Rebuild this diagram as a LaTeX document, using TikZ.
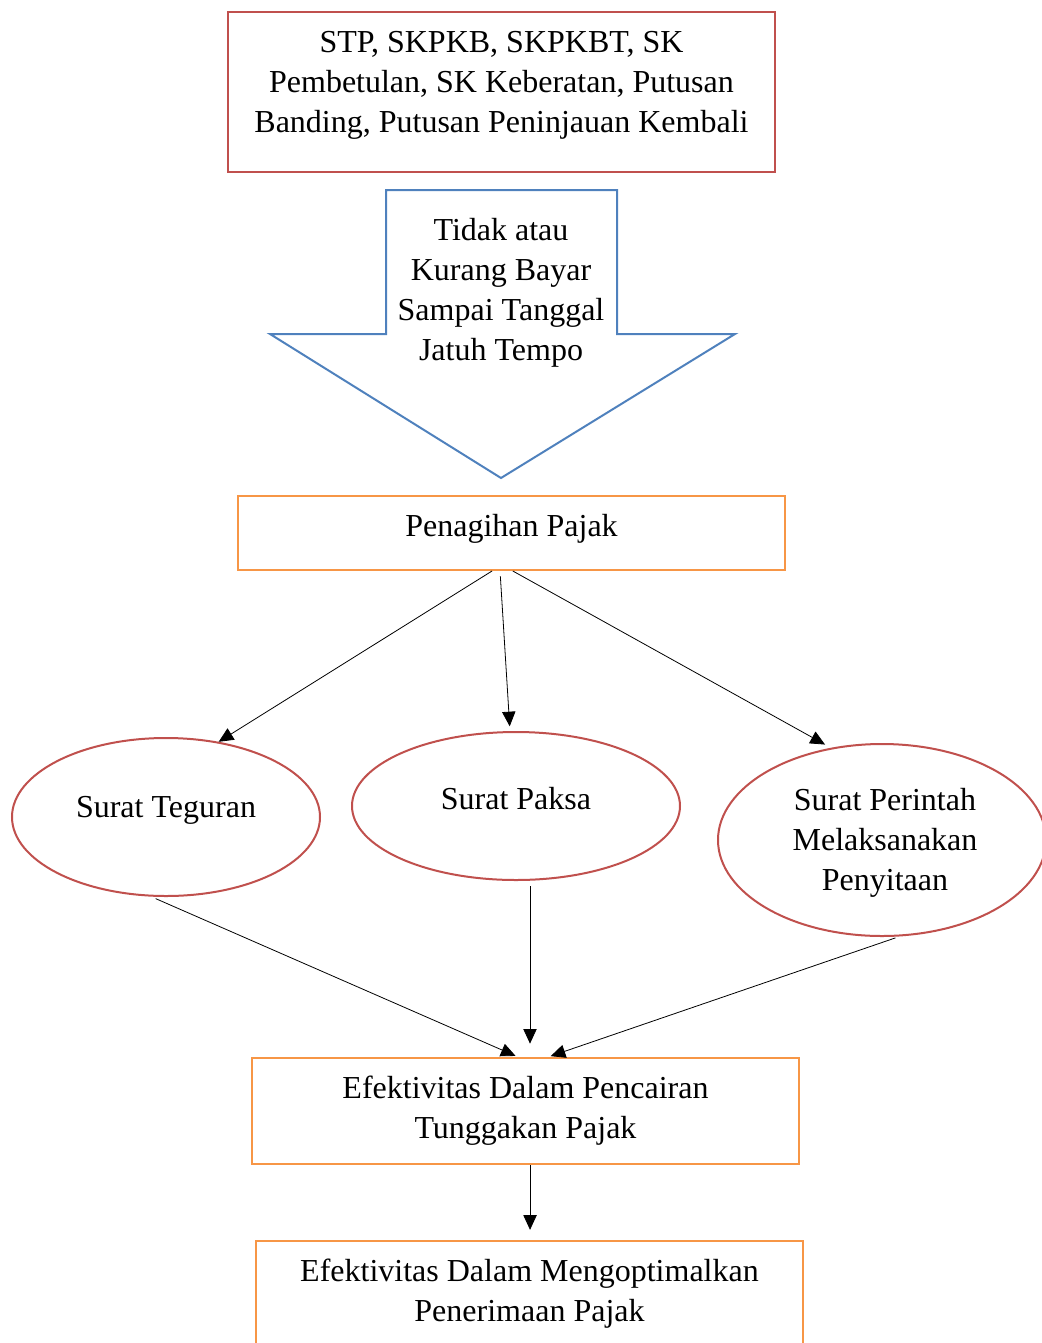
\documentclass[tikz,border=0pt]{standalone}
\usepackage{fontspec}
\setmainfont{Liberation Serif}
\usetikzlibrary{shapes.geometric,arrows.meta}
\definecolor{skred}{HTML}{C0504D}
\definecolor{skblue}{HTML}{4F81BD}
\definecolor{skorange}{HTML}{F79646}
\tikzset{
  redbox/.style={draw=skred,line width=1.5pt,rectangle},
  orangebox/.style={draw=skorange,line width=1.5pt,rectangle},
  redell/.style={draw=skred,line width=1.5pt,ellipse},
  txt/.style={align=center,inner sep=0pt,font=\fontsize{24pt}{30pt}\selectfont},
  flow/.style={-{Triangle[length=11pt,width=10pt]},line width=0.6pt}
}
\begin{document}
\begin{tikzpicture}[x=0.75pt,y=-0.75pt]
    \useasboundingbox (0,0) rectangle (1042,1343);
    % top box
    \node[redbox,minimum width=410.25pt,minimum height=120pt] (sk) at (501.5,92) {};
    \node[txt] (skText) at (501.5,85.5) {STP, SKPKB, SKPKBT, SK\\Pembetulan, SK Keberatan, Putusan\\Banding, Putusan Peninjauan Kembali};
    % block arrow
    \draw[skblue,line width=1.5pt,line join=miter] (386,190) -- (617,190) -- (617,334) -- (735,334)
        -- (501,478) -- (270,334) -- (386,334) -- cycle;
    \node[txt] (jtText) at (501,293) {Tidak atau\\Kurang Bayar\\Sampai Tanggal\\Jatuh Tempo};
    % penagihan
    \node[orangebox,minimum width=410.25pt,minimum height=55.5pt] (pen) at (511.5,533) {};
    \node[txt] (penText) at (511.5,529) {Penagihan Pajak};
    % ellipses
    \node[redell,minimum width=231pt,minimum height=118.5pt] (teg) at (166,817) {};
    \node[txt] (tegText) at (166,810) {Surat Teguran};
    \node[redell,minimum width=246pt,minimum height=111pt] (par) at (516,806) {};
    \node[txt] (parText) at (516,799) {Surat Paksa};
    \node[redell,minimum width=246pt,minimum height=144pt] (sp) at (882,840) {};
    \node[txt] (spText) at (885,842.5) {Surat Perintah\\Melaksanakan\\Penyitaan};
    % bottom boxes
    \node[orangebox,minimum width=410.25pt,minimum height=79.5pt] (eff) at (525.5,1111) {};
    \node[txt] (effText) at (525.5,1110.5) {Efektivitas Dalam Pencairan\\Tunggakan Pajak};
    \node[orangebox,minimum width=410.25pt,minimum height=82pt] (opt) at (529.5,1295.5) {};
    \node[txt] (optText) at (529.5,1293.5) {Efektivitas Dalam Mengoptimalkan\\Penerimaan Pajak};
    % connectors
    \draw[flow] ([xshift=-14.6pt]pen.south) -- (teg.55);
    \draw[flow,shorten <=4pt,shorten >=3.5pt] ([xshift=-8.6pt]pen.south) -- ([xshift=-4.5pt]par.north);
    \draw[flow,shorten >=5pt] ([xshift=1pt]pen.south) -- (sp.119);
    \draw[flow,shorten <=3pt,shorten >=2pt] ([xshift=-10.5pt]teg.south) -- ([xshift=-5.6pt]eff.north);
    \draw[flow,shorten <=4pt,shorten >=10pt] ([xshift=10.5pt]par.south) -- ([xshift=10.5pt]par.south |- eff.north);
    \draw[flow,shorten <=2pt,shorten >=2pt] ([xshift=12pt]sp.south) -- ([xshift=17pt]eff.north);
    \draw[flow,shorten >=7.5pt] ([xshift=3.4pt]eff.south) -- ([xshift=3.4pt]eff.south |- opt.north);
\end{tikzpicture}
\end{document}
